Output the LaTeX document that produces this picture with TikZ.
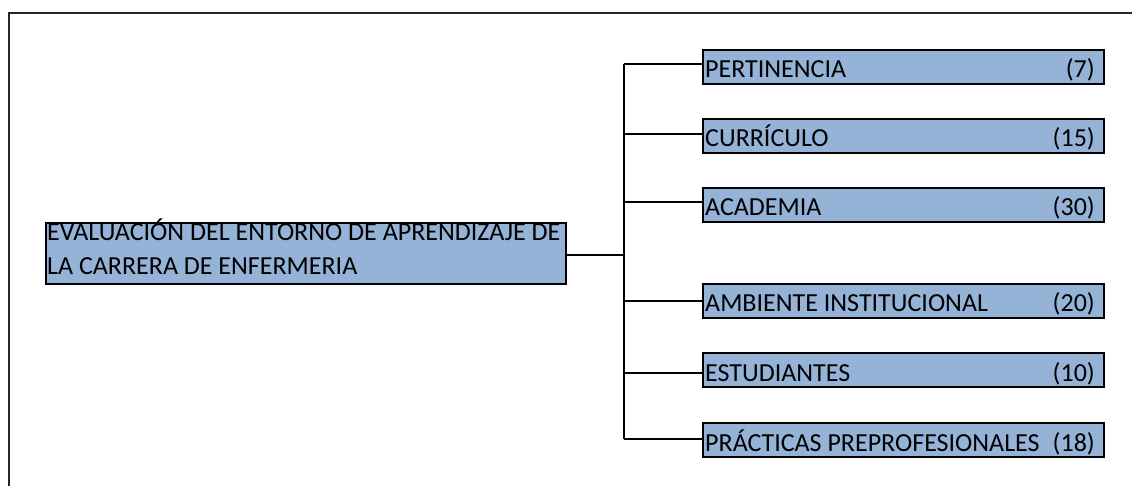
\documentclass[tikz,border=0pt]{standalone}
\usepackage{fontspec}
\setmainfont{Carlito}
\usetikzlibrary{calc}
\definecolor{boxblue}{RGB}{149,179,215}
\begin{document}
\begin{tikzpicture}[x=1pt,y=-1pt,
  bluebox/.style={draw=black,line width=2pt,fill=boxblue,inner sep=0pt,anchor=north west},
  txt/.style={inner sep=0pt,font=\fontsize{26}{30}\selectfont,text=black},
  conn/.style={draw=black,line width=1.3pt}]
\useasboundingbox (0,0) rectangle (1132,486);
\fill[white] (0,0) rectangle (1132,486);
\draw[line width=2pt,black!85] (9,486) -- (9,13) -- (1132,13);
% main box
\node[bluebox,minimum width=520pt,minimum height=61pt] (main) at (45,222) {};
\node[txt,anchor=base west] (mt1) at (47,241) {EVALUACIÓN DEL ENTORNO DE APRENDIZAJE DE};
\node[txt,anchor=base west] (mt2) at (47,275) {LA CARRERA DE ENFERMERIA};
% right boxes
\foreach \n/\y/\a/\b in {b1/49/PERTINENCIA/(7), b2/118/CURRÍCULO/(15), b3/187/ACADEMIA/(30), b4/283/AMBIENTE INSTITUCIONAL/(20), b5/352/ESTUDIANTES/(10), b6/422/PRÁCTICAS PREPROFESIONALES/(18)}{
  \node[bluebox,minimum width=401pt,minimum height=34pt] (\n) at (702,\y) {};
  \node[txt,anchor=base west] (\n l) at ($(\n.south west)+(3,-7)$) {\a};
  \node[txt,anchor=base east] (\n r) at ($(\n.south east)+(-10,-7)$) {\b};
}
% connectors
\coordinate (bus) at (624,255);
\coordinate (bustop) at (624,64);
\coordinate (busbot) at (624,439);
\draw[conn] (bus -| main.east) -- (bus);
\draw[conn] (bustop) -- (busbot);
\draw[conn] (bustop) -- (bustop -| b1.west);
\draw[conn] (624,134) -- (624,134 -| b2.west);
\draw[conn] (624,202) -- (624,202 -| b3.west);
\draw[conn] (624,301) -- (624,301 -| b4.west);
\draw[conn] (624,373) -- (624,373 -| b5.west);
\draw[conn] (busbot) -- (busbot -| b6.west);
\end{tikzpicture}
\end{document}
